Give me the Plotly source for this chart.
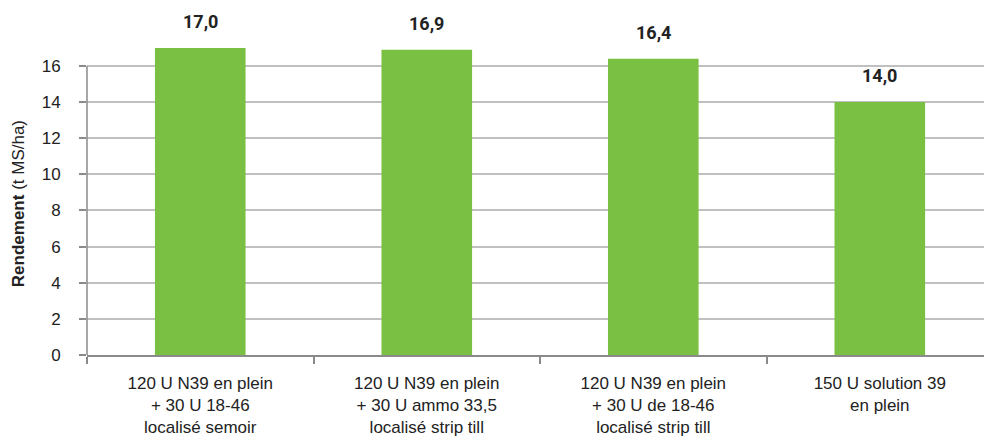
import plotly.graph_objects as go

categories = [
    "120 U N39 en plein<br>+ 30 U 18-46<br>localisé semoir",
    "120 U N39 en plein<br>+ 30 U ammo 33,5<br>localisé strip till",
    "120 U N39 en plein<br>+ 30 U de 18-46<br>localisé strip till",
    "150 U solution 39<br>en plein",
]
values = [17.0, 16.9, 16.4, 14.0]
labels = ["17,0", "16,9", "16,4", "14,0"]
y_ticks = [0, 2, 4, 6, 8, 10, 12, 14, 16]

GRAY = "#8a8a8a"
GRID = "#c0c0c0"
GREEN = "#7AC143"
TXT = "#222222"

fig = go.Figure()
fig.add_trace(go.Bar(
    x=categories, y=values, width=0.4,
    marker=dict(color=GREEN, line=dict(width=0)),
    hoverinfo="skip",
))

for c, v, l in zip(categories, values, labels):
    fig.add_annotation(x=c, y=v, text="<b>%s</b>" % l, showarrow=False,
                       yanchor="bottom", yshift=14,
                       font=dict(family="Roboto", size=18, color=TXT))

fig.add_annotation(x=-0.077, xref="paper", y=8.4, yref="y",
                   text="<b>Rendement</b> (t MS/ha)", textangle=-90,
                   showarrow=False, xanchor="center", yanchor="middle",
                   font=dict(family="Liberation Sans", size=17, color=TXT))

fig.add_shape(type="line", xref="paper", yref="y", x0=0, x1=0, y0=0, y1=16,
              line=dict(color=GRAY, width=1.5))

fig.update_layout(
    width=984, height=437,
    margin=dict(l=87, r=0, t=0, b=82, autoexpand=False),
    paper_bgcolor="white", plot_bgcolor="white",
    showlegend=False,
    font=dict(family="Liberation Sans", size=17, color=TXT),
    xaxis=dict(
        range=[-0.5, 3.46], showline=True, linecolor=GRAY, linewidth=1.5,
        ticks="outside", tickson="boundaries", ticklen=7, tickcolor=GRAY,
        tickwidth=1.5, showgrid=False, tickfont=dict(size=17, color=TXT),
        ticklabelstandoff=12, fixedrange=True, automargin=False,
    ),
    yaxis=dict(
        range=[0, 19.65], tickvals=y_ticks, showgrid=True, gridcolor=GRID,
        gridwidth=1.5, zeroline=False, showline=False, ticks="outside",
        ticklen=7, tickcolor=GRAY, tickwidth=1.5,
        tickfont=dict(size=17, color=TXT), ticklabelstandoff=15,
        fixedrange=True, automargin=False,
    ),
)

fig.write_html("out.html")
